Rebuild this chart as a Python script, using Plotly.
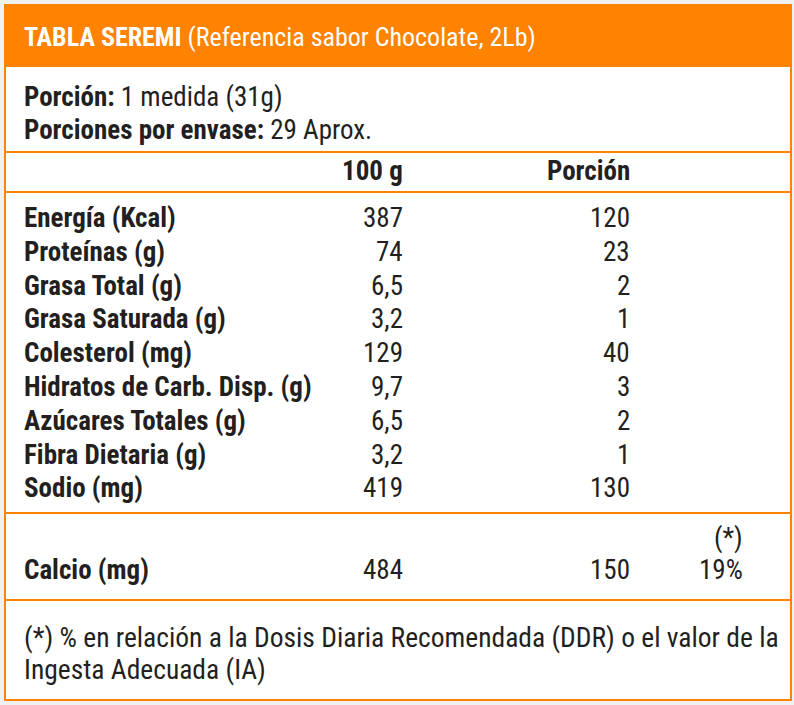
import plotly.graph_objects as go

nutrientes = ["Energía (Kcal)", "Proteínas (g)", "Grasa Total (g)", "Grasa Saturada (g)",
              "Colesterol (mg)", "Hidratos de Carb. Disp. (g)", "Azúcares Totales (g)",
              "Fibra Dietaria (g)", "Sodio (mg)"]
por_100g = ["387", "74", "6,5", "3,2", "129", "9,7", "6,5", "3,2", "419"]
por_porcion = ["120", "23", "2", "1", "40", "3", "2", "1", "130"]

calcio = ["Calcio (mg)", "484", "150", "19%"]
col_headers = ["100 g", "Porción"]

titulo = "TABLA SEREMI"
subtitulo = "(Referencia sabor Chocolate, 2Lb)"
porcion = ["Porción:", "1 medida (31g)"]
envase = ["Porciones por envase:", "29 Aprox."]
nota = ["(*) % en relación a la Dosis Diaria Recomendada (DDR) o el valor de la",
        "Ingesta Adecuada (IA)"]

ORANGE = "#ff8200"
TXT = "#231f20"
FONT = "Roboto Condensed, DejaVu Sans Condensed, sans-serif"
FS = 27

fig = go.Figure()
fig.add_trace(go.Scatter(x=[0, 794], y=[0, 705], mode="markers", marker=dict(opacity=0),
                         hoverinfo="skip", showlegend=False))

# marco, banda del titulo y separadores
fig.add_shape(type="rect", x0=5, x1=791, y0=5, y1=700, line=dict(color=ORANGE, width=2),
              fillcolor="white", layer="below")
fig.add_shape(type="rect", x0=5, x1=791, y0=5, y1=67, line=dict(width=0),
              fillcolor=ORANGE, layer="below")
for yy in [152, 192, 513, 600]:
    fig.add_shape(type="line", x0=5, x1=791, y0=yy, y1=yy, line=dict(color=ORANGE, width=2))


def txt(x, y, s, anchor="left", bold=False, color=TXT, size=FS):
    if bold:
        s = "<b>" + s + "</b>"
    fig.add_annotation(x=x, y=y, text=s, showarrow=False, xanchor=anchor, yanchor="middle",
                       font=dict(family=FONT, size=size, color=color))


txt(22, 37, "<b>" + titulo + "</b> " + subtitulo, color="white", size=26)
txt(22, 97, "<b>" + porcion[0] + "</b> " + porcion[1])
txt(22, 130, "<b>" + envase[0] + "</b> " + envase[1])
txt(405, 171, col_headers[0], anchor="right", bold=True)
txt(632, 171, col_headers[1], anchor="right", bold=True)

y0, dy = 218, 33.8
for i, (n, a, b) in enumerate(zip(nutrientes, por_100g, por_porcion)):
    y = y0 + i * dy
    txt(22, y, n, bold=True)
    txt(405, y, a, anchor="right")
    txt(632, y, b, anchor="right")

txt(22, 570, calcio[0], bold=True)
txt(405, 570, calcio[1], anchor="right")
txt(632, 570, calcio[2], anchor="right")
txt(745, 570, calcio[3], anchor="right")
txt(745, 538, "(*)", anchor="right")

txt(22, 637, nota[0], size=27.5)
txt(22, 669, nota[1], size=27.5)

fig.update_layout(width=794, height=705, margin=dict(l=0, r=0, t=0, b=0),
                  paper_bgcolor="#f0f0f0", plot_bgcolor="#f0f0f0",
                  xaxis=dict(range=[0, 794], visible=False, fixedrange=True),
                  yaxis=dict(range=[705, 0], visible=False, fixedrange=True))
fig.write_html("out.html", config={"displayModeBar": False},
               post_script="document.body.style.margin='0';")
